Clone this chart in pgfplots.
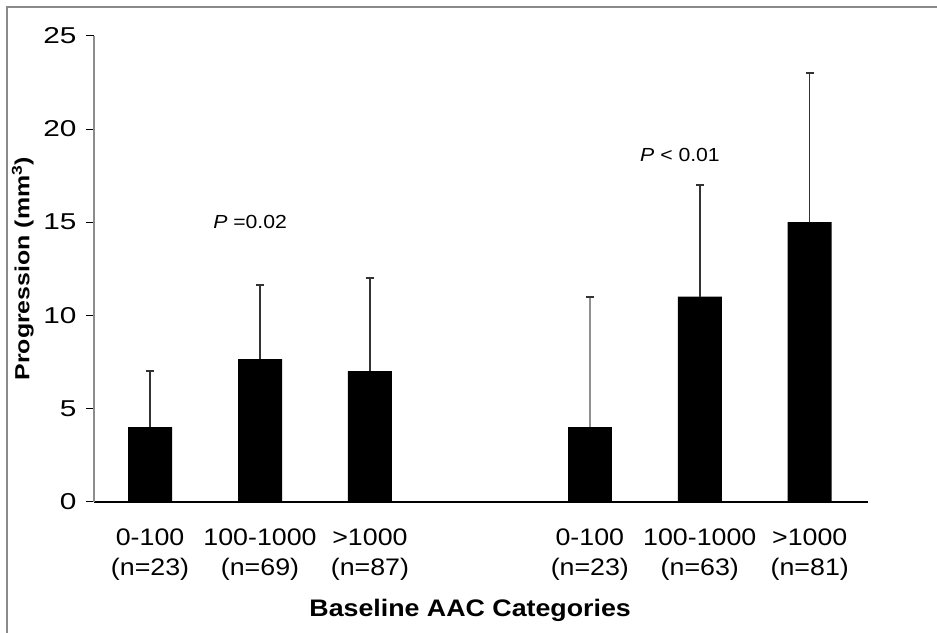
\documentclass[border=0pt]{standalone}
\usepackage{fontspec}
\setmainfont{Liberation Sans}[FakeStretch=1.12]
\newfontfamily\ytickfont{Liberation Sans}[FakeStretch=1.3]
\newfontfamily\ylabfont{Liberation Sans}[FakeStretch=1.22]
\usepackage{pgfplots}
\pgfplotsset{compat=1.18}
\definecolor{axgray}{HTML}{8C8C8C}
\definecolor{errdark}{HTML}{333333}
\definecolor{errlight}{HTML}{909090}
\definecolor{framegray}{HTML}{8A8A8A}

\pgfplotstableread{
x  y     e
0  4     3
1  7.65  3.98
2  7     5
5  11    6
6  15    8
}\bardata
\pgfplotstableread{
x  y     e
4  4     7
}\bargray

\begin{document}
\begin{tikzpicture}
\begin{axis}[
  at={(0,0)}, anchor=south west,
  scale only axis, width=774bp, height=465.5bp,
  xmin=-0.51, xmax=6.53, ymin=0, ymax=25,
  axis x line=bottom, axis y line=left,
  x axis line style={-, black, line width=2bp},
  y axis line style={-, axgray, line width=1.3bp},
  xtick={0,1,2,4,5,6},
  xticklabels={{0-100\\(n=23)},{100-1000\\(n=69)},{>1000\\(n=87)},
               {0-100\\(n=23)},{100-1000\\(n=63)},{>1000\\(n=81)}},
  xtick style={draw=none},
  xticklabel style={align=center, font=\fontsize{24}{29.5}\selectfont, yshift=-16bp},
  ytick={0,5,...,25},
  ytick style={black, line width=1bp},
  tick align=outside, major tick length=8bp,
  /pgf/number format/assume math mode=true,
  yticklabel style={font=\ytickfont\fontsize{23}{26}\selectfont, xshift=-6bp},
  every axis x label/.style={at={(axis description cs:0.486,-0.233)}, anchor=center},
  xlabel={\bfseries\fontsize{24}{28}\selectfont Baseline AAC Categories},
  every axis y label/.style={at={(axis description cs:-0.092,0.5)}, rotate=90, anchor=center},
  ylabel={\ylabfont\bfseries\fontsize{20.5}{24}\selectfont Progression (mm\textsuperscript{3})},
  clip=false,
]
\addplot[ybar, bar width=44bp, bar shift=0pt, fill=black, draw=none,
  error bars/.cd, y dir=plus, y explicit,
  error bar style={errdark, line width=1.5bp},
  error mark options={errdark, line width=2bp, mark size=4bp, rotate=90}]
  table[x=x, y=y, y error=e] {\bardata};
\addplot[ybar, bar width=44bp, bar shift=0pt, fill=black, draw=none,
  error bars/.cd, y dir=plus, y explicit,
  error bar style={errlight, line width=1.5bp},
  error mark options={errdark, line width=2bp, mark size=4bp, rotate=90}]
  table[x=x, y=y, y error=e] {\bargray};
\node[font=\fontsize{19}{21}\selectfont] at (axis cs:0.91,15.0) {\textit{P} =0.02};
\node[font=\fontsize{19}{21}\selectfont] at (axis cs:4.82,18.6) {\textit{P} < 0.01};
\end{axis}
\draw[framegray, line width=2bp] (-87bp,-131.5bp) -- (-87bp,494.5bp) -- (843bp,494.5bp);
\pgfresetboundingbox
\path (-94bp,-131.5bp) rectangle (843bp,501.5bp);
\end{tikzpicture}
\end{document}
